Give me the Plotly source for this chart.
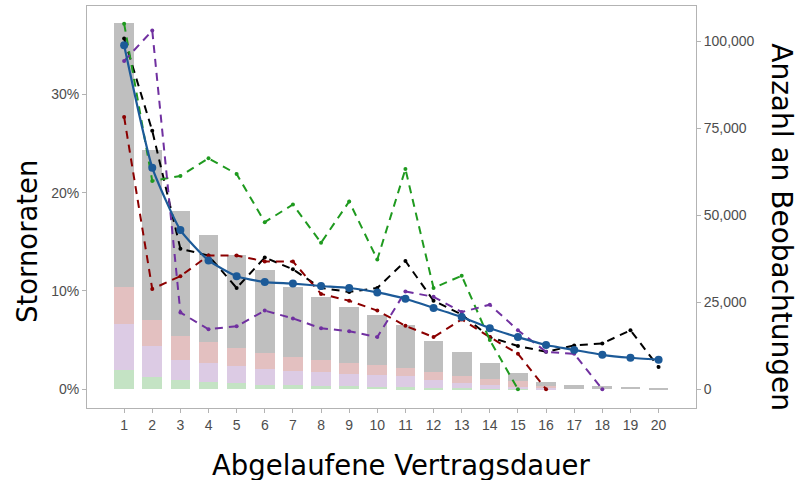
import plotly.graph_objects as go

# Vertragsjahre 1..20
jahre = list(range(1, 21))

# Anzahl Beobachtungen je Gruppe (gestapelte Balken, rechte Achse)
n_gruen = [5460, 3640, 2590, 2100, 1820, 1340, 1240, 950, 950, 660,
           570, 400, 300, 200, 100, 0, 0, 0, 0, 0]
n_lila = [13310, 8720, 5740, 5470, 4880, 4500, 4030, 3940, 3360, 3460,
          3170, 2190, 1520, 1040, 680, 300, 0, 0, 0, 0]
n_rot = [10630, 7540, 6970, 6030, 5170, 4590, 4120, 3440, 3250, 2870,
         2390, 2390, 2010, 1830, 1720, 650, 0, 0, 0, 0]
n_grau = [75800, 49070, 35940, 30940, 26730, 23850, 20110, 18270, 16200, 14370,
          12360, 8910, 6900, 4500, 2100, 1150, 1240, 950, 660, 290]

# Stornoraten je Gruppe (linke Achse)
rate_gesamt = [0.350, 0.2255, 0.162, 0.131, 0.115, 0.109, 0.1075, 0.105, 0.103, 0.0985,
               0.092, 0.0827, 0.0735, 0.062, 0.053, 0.045, 0.040, 0.035, 0.032, 0.030]
rate_schwarz = [0.357, 0.263, 0.143, 0.136, 0.103, 0.134, 0.122, 0.103, 0.099, 0.103,
                0.1305, 0.090, 0.076, 0.053, 0.044, 0.038, 0.0445, 0.0465, 0.060, 0.0225]
rate_rot = [0.277, 0.102, 0.115, 0.136, 0.136, 0.130, 0.130, 0.097, 0.090, 0.080,
            0.0645, 0.053, 0.071, 0.053, 0.036, 0.0]
rate_gruen = [0.372, 0.212, 0.217, 0.235, 0.219, 0.170, 0.188, 0.149, 0.191, 0.132,
              0.224, 0.103, 0.1155, 0.050, 0.0]
rate_lila = [0.334, 0.365, 0.078, 0.061, 0.064, 0.080, 0.072, 0.062, 0.059, 0.053,
             0.0995, 0.094, 0.0785, 0.086, 0.060, 0.038, 0.036, 0.0]

fig = go.Figure()

bar_parts = [
    (n_gruen, "#c4e3c4"),
    (n_lila, "#dccbe4"),
    (n_rot, "#e3c0c0"),
    (n_grau, "#bfbfbf"),
]
for werte, farbe in bar_parts:
    fig.add_trace(go.Bar(
        x=jahre, y=werte, width=0.7, marker=dict(color=farbe, line=dict(width=0)),
        yaxis="y", showlegend=False,
    ))

dash_lines = [
    (rate_schwarz, "#000000"),
    (rate_rot, "#8b0000"),
    (rate_gruen, "#1f9a1f"),
    (rate_lila, "#7030a0"),
]
for werte, farbe in dash_lines:
    fig.add_trace(go.Scatter(
        x=jahre[:len(werte)], y=werte, yaxis="y2", mode="lines+markers",
        line=dict(color=farbe, width=2, dash="8px,6px"),
        marker=dict(color=farbe, size=4), showlegend=False,
    ))

fig.add_trace(go.Scatter(
    x=jahre, y=rate_gesamt, yaxis="y2", mode="lines+markers",
    line=dict(color="#1c5a98", width=2.2, shape="spline", smoothing=0.5),
    marker=dict(color="#1c5a98", size=8), showlegend=False,
))

grau_text = "#4d4d4d"
rahmen = "#b3b3b3"

fig.update_layout(
    width=797, height=480,
    margin=dict(l=87, r=101, t=6, b=72),
    paper_bgcolor="white", plot_bgcolor="white",
    barmode="stack", bargap=0,
    font=dict(family="Liberation Sans, Arial, sans-serif", color=grau_text, size=14),
    xaxis=dict(
        range=[-0.32, 21.33], tickmode="array", tickvals=jahre,
        ticktext=[str(j) for j in jahre],
        showgrid=False, zeroline=False, showline=True, mirror=True,
        linecolor=rahmen, linewidth=1, ticks="outside", ticklen=4,
        tickcolor=rahmen, tickfont=dict(size=14, color=grau_text),
    ),
    yaxis=dict(
        side="right", range=[-5324, 110216],
        tickmode="array", tickvals=[0, 25000, 50000, 75000, 100000],
        tickformat=",", showgrid=False, zeroline=False,
        showline=True, mirror=True, linecolor=rahmen, linewidth=1,
        ticks="outside", ticklen=4, tickcolor=rahmen,
        tickfont=dict(size=14, color=grau_text),
    ),
    yaxis2=dict(
        side="left", overlaying="y", range=[-0.01915, 0.390],
        tickmode="array", tickvals=[0, 0.1, 0.2, 0.3], tickformat=".0%",
        showgrid=False, zeroline=False, showline=False,
        ticks="outside", ticklen=4, tickcolor=rahmen,
        tickfont=dict(size=14, color=grau_text),
    ),
    annotations=[
        dict(text="Abgelaufene Vertragsdauer", xref="paper", yref="paper",
             x=0.517, y=-0.142, xanchor="center", yanchor="middle", showarrow=False,
             font=dict(family="DejaVu Sans", size=27.5, color="#000000")),
        dict(text="Stornoraten", xref="paper", yref="paper",
             x=-0.0985, y=0.413, xanchor="center", yanchor="middle", showarrow=False,
             textangle=-90, font=dict(family="DejaVu Sans", size=27.5, color="#000000")),
        dict(text="Anzahl an Beobachtungen", xref="paper", yref="paper",
             x=1.141, y=0.45, xanchor="center", yanchor="middle", showarrow=False,
             textangle=90, font=dict(family="DejaVu Sans", size=28, color="#000000")),
    ],
)

fig.write_html("out.html")
